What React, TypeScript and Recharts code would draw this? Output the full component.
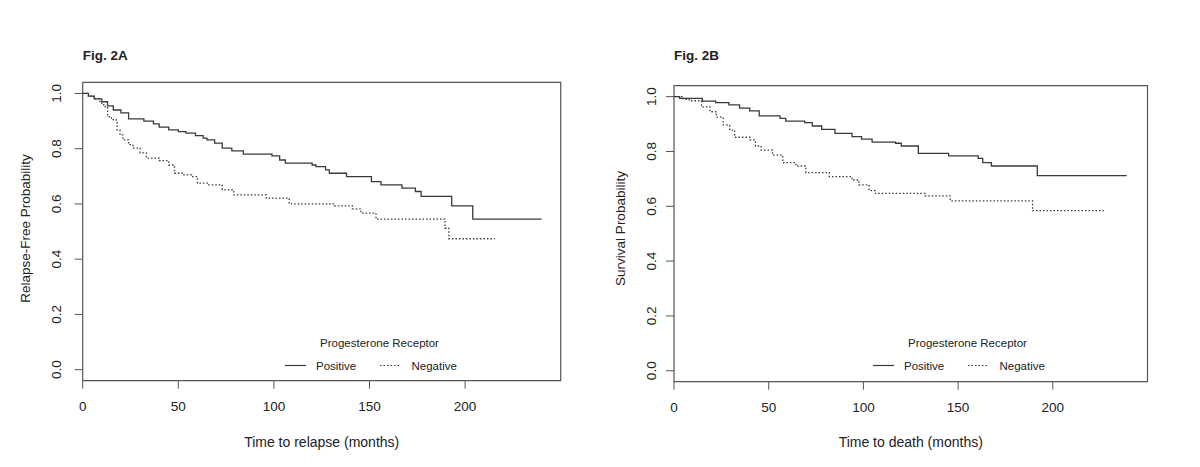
import React from 'react';
import { LineChart, Line, XAxis, YAxis, ReferenceArea, Legend, Label } from 'recharts';

// axis ticks shared by both panels
const xTicks = [0, 50, 100, 150, 200];
const yTicks = [0, 0.2, 0.4, 0.6, 0.8, 1.0];
const seriesNames = ['Positive', 'Negative'];
const legendTitle = 'Progesterone Receptor';

// Fig. 2A - relapse-free (Kaplan-Meier step points)
const relapsePosTime = [0, 3, 6, 10, 13, 16, 20, 24, 32, 37, 40, 45, 50, 54, 59, 63, 65, 69, 73, 78, 84, 99, 103, 106, 120, 122, 127, 129, 138, 151, 156, 167, 174, 177, 193, 204, 240];
const relapsePosSurv = [1.0, 0.99, 0.98, 0.97, 0.955, 0.94, 0.93, 0.908, 0.9, 0.89, 0.878, 0.868, 0.862, 0.856, 0.847, 0.838, 0.832, 0.82, 0.802, 0.792, 0.78, 0.774, 0.759, 0.748, 0.741, 0.735, 0.723, 0.711, 0.699, 0.681, 0.669, 0.657, 0.645, 0.627, 0.593, 0.545, 0.545];
const relapseNegTime = [0, 3, 6, 9, 11, 13, 15, 17.6, 18, 19.5, 21, 24, 26.3, 30, 33.3, 40, 45, 48, 52, 57, 60, 66, 73, 79, 96, 108, 131.6, 141, 145.5, 153.4, 189.5, 191.5, 215.5];
const relapseNegSurv = [1.0, 0.99, 0.98, 0.965, 0.952, 0.916, 0.905, 0.898, 0.868, 0.85, 0.832, 0.815, 0.802, 0.785, 0.766, 0.757, 0.741, 0.711, 0.705, 0.699, 0.675, 0.669, 0.651, 0.633, 0.621, 0.6, 0.593, 0.582, 0.567, 0.545, 0.512, 0.474, 0.474];

// Fig. 2B - overall survival
const deathPosTime = [0, 3, 15, 22, 29, 34.6, 40, 45, 56, 59, 69, 73, 78, 85, 94, 99, 104.6, 117, 120, 129, 145, 160.6, 163, 167.6, 191.8, 239];
const deathPosSurv = [1.0, 0.994, 0.984, 0.978, 0.97, 0.958, 0.948, 0.93, 0.921, 0.911, 0.905, 0.893, 0.881, 0.866, 0.854, 0.845, 0.834, 0.83, 0.82, 0.793, 0.784, 0.775, 0.759, 0.747, 0.712, 0.712];
const deathNegTime = [0, 5, 8, 14.5, 19, 22.4, 26, 29.4, 32, 40, 43, 46, 52, 57.4, 64.4, 69.6, 82, 94, 97.6, 103, 106.4, 132.6, 145.8, 189.3, 227];
const deathNegSurv = [1.0, 0.99, 0.985, 0.963, 0.945, 0.925, 0.897, 0.878, 0.852, 0.842, 0.82, 0.805, 0.787, 0.759, 0.747, 0.723, 0.708, 0.696, 0.678, 0.657, 0.647, 0.638, 0.62, 0.584, 0.584];

const toSteps = (t: number[], s: number[]) => t.map((v, i) => ({ t: v, s: s[i] }));

const FONT = '"Liberation Sans", Arial, sans-serif';
const INK = '#222';
const LINE = '#3a3a3a';
const FRAME = '#555';

type PanelProps = {
  fig: string;
  xTitle: string;
  yTitle: string;
  pos: { t: number; s: number }[];
  neg: { t: number; s: number }[];
  left: number; // page offset of this chart
  plotLeft: number;
  plotRight: number;
  plotTop: number;
  plotBottom: number;
  yTickGap: number;
  yTitleX: number;
  legendX: number; // start of the solid legend key, chart coords
};

const W = 600;
const H = 467;

const Panel = (p: PanelProps) => {
  const midX = (p.plotLeft + p.plotRight) / 2;

  const xTick = (props: any) => (
    <text x={props.x} y={props.y} dy="0.71em" textAnchor="middle" fontSize={13.5} fill={INK} fontFamily={FONT}>
      {props.payload.value}
    </text>
  );
  const yTick = (props: any) => (
    <text x={props.x} y={props.y} dy="0.35em" textAnchor="middle" fontSize={13.5} fill={INK} fontFamily={FONT}
      transform={`rotate(-90 ${props.x} ${props.y})`}>
      {Number(props.payload.value).toFixed(1)}
    </text>
  );

  const legend = () => (
    <svg width={220} height={50} style={{ display: 'block' }}>
      <g fontFamily={FONT} fontSize={11.5} fill={INK}>
        <text x={94.5 + 5} y={12.5} dy="0.35em" textAnchor="middle">{legendTitle}</text>
        <line x1={5} x2={26} y1={35.5} y2={35.5} stroke={LINE} strokeWidth={1.2} />
        <text x={36} y={35.5} dy="0.35em">{seriesNames[0]}</text>
        <line x1={100} x2={119} y1={35.5} y2={35.5} stroke={LINE} strokeWidth={1.2} strokeDasharray="1.5 2" />
        <text x={131.5} y={35.5} dy="0.35em">{seriesNames[1]}</text>
      </g>
    </svg>
  );

  return (
    <div style={{ position: 'absolute', left: p.left, top: 0, width: W, height: H }}>
      <LineChart width={W} height={H}
        margin={{ top: p.plotTop, right: W - p.plotRight, bottom: 0, left: 0 }}>
        <XAxis type="number" dataKey="t" domain={[0, 250]} ticks={xTicks} interval={0}
          height={H - p.plotBottom} axisLine={false} tickSize={8} tickMargin={13}
          tickLine={{ stroke: FRAME }} tick={xTick}
          label={<Label content={() => (
            <text x={midX} y={441.7} dy="0.35em" textAnchor="middle" fontSize={14} fill={INK} fontFamily={FONT}>{p.xTitle}</text>
          )} />} />
        <YAxis type="number" domain={[-0.04, 1.04]} ticks={yTicks} interval={0}
          width={p.plotLeft} axisLine={false} tickSize={8} tickMargin={p.yTickGap}
          tickLine={{ stroke: FRAME }} tick={yTick}
          label={<Label content={() => (
            <text x={p.yTitleX} y={228.5} dy="0.35em" textAnchor="middle" fontSize={13.5} fill={INK} fontFamily={FONT}
              transform={`rotate(-90 ${p.yTitleX} 228.5)`}>{p.yTitle}</text>
          )} />} />
        <ReferenceArea x1={0} x2={250} y1={-0.04} y2={1.04} fill="none" stroke={FRAME} strokeWidth={1.2}
          ifOverflow="visible"
          label={<Label content={() => (
            <text x={p.plotLeft} y={55} dy="0.35em" fontSize={13.5} fontWeight="bold" fill={INK} fontFamily={FONT}>{p.fig}</text>
          )} />} />
        <Line data={p.pos} dataKey="s" name={seriesNames[0]} type="stepAfter" stroke={LINE} strokeWidth={1.3}
          dot={false} activeDot={false} isAnimationActive={false} />
        <Line data={p.neg} dataKey="s" name={seriesNames[1]} type="stepAfter" stroke={LINE} strokeWidth={1.3}
          strokeDasharray="1.5 2" dot={false} activeDot={false} isAnimationActive={false} />
        <Legend layout="horizontal" verticalAlign="middle" align="center" content={legend}
          wrapperStyle={{ position: 'absolute', left: p.legendX - 5, top: 330, width: 220, height: 50 }} />
      </LineChart>
    </div>
  );
};

export default function App() {
  return (
    <div style={{ position: 'absolute', left: 0, top: 0, width: 1200, height: 467, background: '#fff' }}>
      <Panel fig="Fig. 2A" xTitle="Time to relapse (months)" yTitle="Relapse-Free Probability"
        pos={toSteps(relapsePosTime, relapsePosSurv)} neg={toSteps(relapseNegTime, relapseNegSurv)}
        left={0} plotLeft={82.7} plotRight={560.7} plotTop={82.4} plotBottom={380.7}
        yTickGap={18} yTitleX={25} legendX={285} />
      <Panel fig="Fig. 2B" xTitle="Time to death (months)" yTitle="Survival Probability"
        pos={toSteps(deathPosTime, deathPosSurv)} neg={toSteps(deathNegTime, deathNegSurv)}
        left={600} plotLeft={74} plotRight={547.5} plotTop={85.7} plotBottom={381.7}
        yTickGap={15} yTitleX={20} legendX={273.3} />
    </div>
  );
}
